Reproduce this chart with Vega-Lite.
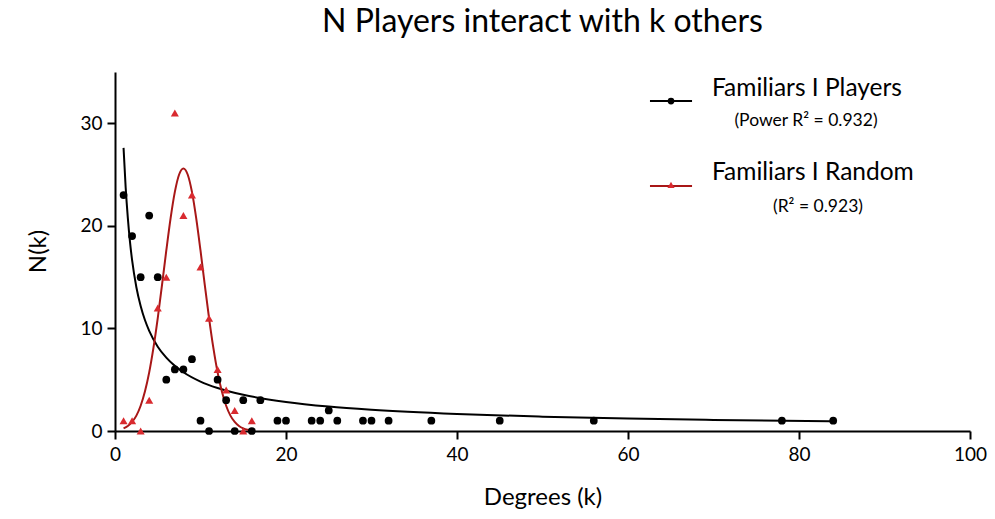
{
  "$schema": "https://vega.github.io/schema/vega-lite/v6.json",
  "width": 855,
  "height": 359,
  "autosize": {"type": "none"},
  "padding": {"left": 115, "top": 72, "right": 25, "bottom": 88},
  "background": "white",
  "config": {
    "view": {"stroke": null},
    "font": "Lato",
    "axis": {
      "grid": false,
      "domainColor": "black",
      "domainWidth": 2,
      "tickColor": "black",
      "tickWidth": 2,
      "tickSize": 8,
      "labelColor": "black",
      "labelFont": "Lato",
      "labelFontSize": 19,
      "labelFlush": false,
      "titleFont": "Lato",
      "titleFontSize": 24,
      "titleFontWeight": "normal",
      "titleColor": "black"
    }
  },
  "title": {
    "text": "N Players interact with k others",
    "font": "Lato",
    "fontSize": 32,
    "fontWeight": "normal",
    "color": "black",
    "anchor": "middle",
    "offset": 33
  },
  "datasets": {
    "players": [
      {"k": 1, "n": 23}, {"k": 2, "n": 19}, {"k": 3, "n": 15}, {"k": 4, "n": 21},
      {"k": 5, "n": 15}, {"k": 6, "n": 5}, {"k": 7, "n": 6}, {"k": 8, "n": 6},
      {"k": 9, "n": 7}, {"k": 10, "n": 1}, {"k": 11, "n": 0}, {"k": 12, "n": 5},
      {"k": 13, "n": 3}, {"k": 14, "n": 0}, {"k": 15, "n": 3}, {"k": 16, "n": 0},
      {"k": 17, "n": 3}, {"k": 19, "n": 1}, {"k": 20, "n": 1}, {"k": 23, "n": 1},
      {"k": 24, "n": 1}, {"k": 25, "n": 2}, {"k": 26, "n": 1}, {"k": 29, "n": 1},
      {"k": 30, "n": 1}, {"k": 32, "n": 1}, {"k": 37, "n": 1}, {"k": 45, "n": 1},
      {"k": 56, "n": 1}, {"k": 78, "n": 1}, {"k": 84, "n": 1}
    ],
    "random": [
      {"k": 1, "n": 1}, {"k": 2, "n": 1}, {"k": 3, "n": 0}, {"k": 4, "n": 3},
      {"k": 5, "n": 12}, {"k": 6, "n": 15}, {"k": 7, "n": 31}, {"k": 8, "n": 21},
      {"k": 9, "n": 23}, {"k": 10, "n": 16}, {"k": 11, "n": 11}, {"k": 12, "n": 6},
      {"k": 13, "n": 4}, {"k": 14, "n": 2}, {"k": 15, "n": 0}, {"k": 16, "n": 1}
    ],
    "powerfit": [
      {"k": 1, "n": 27.6}, {"k": 1.25, "n": 23.7}, {"k": 1.5, "n": 20.78},
      {"k": 1.75, "n": 18.46}, {"k": 2, "n": 16.65}, {"k": 2.5, "n": 14.02},
      {"k": 3, "n": 12.19}, {"k": 3.5, "n": 10.82}, {"k": 4, "n": 9.77},
      {"k": 5, "n": 8.22}, {"k": 6, "n": 7.15}, {"k": 7, "n": 6.35},
      {"k": 8, "n": 5.73}, {"k": 10, "n": 4.82}, {"k": 12, "n": 4.19},
      {"k": 15, "n": 3.53}, {"k": 20, "n": 2.83}, {"k": 25, "n": 2.38},
      {"k": 30, "n": 2.07}, {"k": 40, "n": 1.66}, {"k": 50, "n": 1.4},
      {"k": 60, "n": 1.21}, {"k": 70, "n": 1.08}, {"k": 84, "n": 0.94}
    ],
    "gaussfit": [
      {"k": 1, "n": 0.26}, {"k": 1.5, "n": 0.49}, {"k": 2, "n": 0.88},
      {"k": 2.5, "n": 1.5}, {"k": 3, "n": 2.46}, {"k": 3.5, "n": 3.84},
      {"k": 4, "n": 5.71}, {"k": 4.5, "n": 8.12}, {"k": 5, "n": 11.01},
      {"k": 5.5, "n": 14.25}, {"k": 6, "n": 17.6}, {"k": 6.5, "n": 20.73},
      {"k": 7, "n": 23.31}, {"k": 7.5, "n": 25.01}, {"k": 8, "n": 25.6},
      {"k": 8.5, "n": 25.01}, {"k": 9, "n": 23.31}, {"k": 9.5, "n": 20.73},
      {"k": 10, "n": 17.6}, {"k": 10.5, "n": 14.25}, {"k": 11, "n": 11.01},
      {"k": 11.5, "n": 8.12}, {"k": 12, "n": 5.71}, {"k": 12.5, "n": 3.84},
      {"k": 13, "n": 2.46}, {"k": 13.5, "n": 1.5}, {"k": 14, "n": 0.88},
      {"k": 14.5, "n": 0.49}, {"k": 15, "n": 0.26}, {"k": 15.5, "n": 0.13},
      {"k": 16, "n": 0.06}
    ],
    "legendline": [{"a": 62.57, "b": 67.49}]
  },
  "layer": [
    {
      "data": {"name": "powerfit"},
      "mark": {"type": "line", "color": "black", "strokeWidth": 2, "interpolate": "monotone"},
      "encoding": {
        "x": {"field": "k", "type": "quantitative",
              "scale": {"domain": [0, 100], "nice": false},
              "axis": {"values": [0, 20, 40, 60, 80, 100], "title": "Degrees (k)", "titleY": 66, "titleBaseline": "middle", "labelPadding": 6}},
        "y": {"field": "n", "type": "quantitative",
              "scale": {"domain": [0, 35], "nice": false},
              "axis": {"values": [0, 10, 20, 30], "title": "N(k)", "titleX": -77, "titleY": 179, "titleAngle": -90, "titleBaseline": "middle", "titleAlign": "center", "labelPadding": 5}}
      }
    },
    {
      "data": {"name": "gaussfit"},
      "mark": {"type": "line", "color": "#a81717", "strokeWidth": 2, "interpolate": "monotone"},
      "encoding": {
        "x": {"field": "k", "type": "quantitative"},
        "y": {"field": "n", "type": "quantitative"}
      }
    },
    {
      "data": {"name": "players"},
      "mark": {"type": "point", "shape": "circle", "filled": true, "color": "black", "size": 60, "opacity": 1},
      "encoding": {
        "x": {"field": "k", "type": "quantitative"},
        "y": {"field": "n", "type": "quantitative"}
      }
    },
    {
      "data": {"name": "random"},
      "mark": {"type": "point", "shape": "triangle-up", "filled": true, "color": "#d92a2f", "size": 65, "opacity": 1},
      "encoding": {
        "x": {"field": "k", "type": "quantitative"},
        "y": {"field": "n", "type": "quantitative"}
      }
    },
    {
      "data": {"name": "legendline"},
      "mark": {"type": "rule", "color": "black", "strokeWidth": 2},
      "encoding": {
        "x": {"field": "a", "type": "quantitative"},
        "x2": {"field": "b"},
        "y": {"datum": 32.17}
      }
    },
    {
      "data": {"name": "legendline"},
      "mark": {"type": "rule", "color": "#a81717", "strokeWidth": 2},
      "encoding": {
        "x": {"field": "a", "type": "quantitative"},
        "x2": {"field": "b"},
        "y": {"datum": 23.89}
      }
    },
    {
      "data": {"name": "legendline"},
      "mark": {"type": "point", "shape": "circle", "filled": true, "color": "black", "size": 45, "opacity": 1},
      "encoding": {"x": {"datum": 65.03}, "y": {"datum": 32.17}}
    },
    {
      "data": {"name": "legendline"},
      "mark": {"type": "point", "shape": "triangle-up", "filled": true, "color": "#d92a2f", "size": 50, "opacity": 1},
      "encoding": {"x": {"datum": 65.03}, "y": {"datum": 24.0}}
    },
    {
      "data": {"name": "legendline"},
      "mark": {"type": "text", "align": "left", "baseline": "middle", "fontSize": 24.5, "font": "Lato", "color": "black"},
      "encoding": {"x": {"datum": 69.82}, "y": {"datum": 33.34}, "text": {"value": "Familiars I Players"}}
    },
    {
      "data": {"name": "legendline"},
      "mark": {"type": "text", "align": "center", "baseline": "middle", "fontSize": 17.5, "font": "Lato", "color": "black"},
      "encoding": {"x": {"datum": 80.82}, "y": {"datum": 30.22}, "text": {"value": "(Power R² = 0.932)"}}
    },
    {
      "data": {"name": "legendline"},
      "mark": {"type": "text", "align": "left", "baseline": "middle", "fontSize": 24.5, "font": "Lato", "color": "black"},
      "encoding": {"x": {"datum": 69.82}, "y": {"datum": 25.15}, "text": {"value": "Familiars I Random"}}
    },
    {
      "data": {"name": "legendline"},
      "mark": {"type": "text", "align": "center", "baseline": "middle", "fontSize": 17.5, "font": "Lato", "color": "black"},
      "encoding": {"x": {"datum": 82.22}, "y": {"datum": 21.84}, "text": {"value": "(R² = 0.923)"}}
    }
  ]
}
